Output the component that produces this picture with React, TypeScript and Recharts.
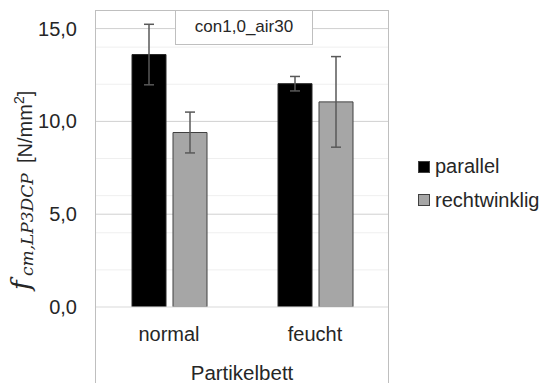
import React from 'react';
import { BarChart, Bar, XAxis, YAxis, CartesianGrid, ErrorBar, Legend, Label } from 'recharts';

const categories = ['normal', 'feucht'];
const parallelValues = [13.6, 12.03];
const parallelErrors = [1.63, 0.39];
const rechtValues = [9.4, 11.05];
const rechtErrors = [1.1, 2.44];
const yTicks = [0, 5, 10, 15];
const majorGrid = [5, 10, 15];
const minorGrid = [2, 4, 6, 8, 12, 14];
const annotation = 'con1,0_air30';
const seriesNames = ['parallel', 'rechtwinklig'];

const data = categories.map((c, i) => ({
  category: c,
  parallel: parallelValues[i],
  parallelErr: parallelErrors[i],
  rechtwinklig: rechtValues[i],
  rechtwinkligErr: rechtErrors[i],
}));

const SANS = '"Liberation Sans", Arial, sans-serif';
const SERIF = '"DejaVu Serif", "Liberation Serif", serif';
const TEXT = '#262626';

const YLabel = () => (
  <g fill={TEXT}>
    <text x={30} y={290} transform="rotate(-90, 30, 290)" textAnchor="start" fontFamily={SERIF} fontStyle="italic" fontSize={26}>
      f
    </text>
    <text x={33} y={276} transform="rotate(-90, 33, 276)" textAnchor="start" fontFamily={SERIF} fontStyle="italic" fontSize={17}>
      cm,LP3DCP
    </text>
    <text x={32} y={163} transform="rotate(-90, 32, 163)" textAnchor="start" fontFamily={SANS} fontSize={20}>
      <tspan>[N/mm</tspan>
      <tspan fontSize={14} dy={-8}>2</tspan>
      <tspan dy={8}>]</tspan>
    </text>
  </g>
);

const LegendContent = (props: any) => {
  const items = props.payload || [];
  return (
    <div style={{ fontFamily: SANS, fontSize: 20, color: TEXT }}>
      {items.map((it: any) => (
        <div key={it.value} style={{ display: 'flex', alignItems: 'center', height: 33.5, lineHeight: '33.5px' }}>
          <span
            style={{
              display: 'inline-block',
              width: 10,
              height: 10,
              background: it.color,
              border: '1px solid #404040',
              marginRight: 5,
            }}
          />
          <span>{it.value}</span>
        </div>
      ))}
    </div>
  );
};

export default function App() {
  return (
    <div style={{ position: 'absolute', left: 0, top: 0, width: 547, height: 383, background: '#fff', overflow: 'hidden' }}>
      <div
        style={{
          position: 'absolute',
          left: 95,
          top: 10,
          width: 292,
          height: 373,
          borderLeft: '1px solid #bfbfbf',
          borderTop: '1px solid #bfbfbf',
          borderRight: '1px solid #bfbfbf',
        }}
      />
      <div style={{ position: 'absolute', left: 0, top: 0 }}>
        <BarChart
          width={547}
          height={383}
          data={data}
          margin={{ top: 10, right: 159, bottom: 0, left: 0 }}
          barSize={34}
          barGap={7}
        >
          <CartesianGrid vertical={false} horizontalValues={minorGrid} stroke="#efefef" strokeWidth={1} />
          <CartesianGrid vertical={false} horizontalValues={majorGrid} stroke="#d0d0d0" strokeWidth={1} />
          <XAxis
            dataKey="category"
            height={76}
            tickLine={false}
            tickSize={0}
            tickMargin={20}
            axisLine={{ stroke: '#d9d9d9', strokeWidth: 1 }}
            tick={{ fontSize: 20, fill: TEXT, fontFamily: SANS }}
          >
            <Label value="Partikelbett" position="insideBottom" offset={3} style={{ fontSize: 20.5, fill: TEXT, fontFamily: SANS }} />
          </XAxis>
          <YAxis
            width={96}
            domain={[0, 16]}
            ticks={yTicks}
            interval={0}
            allowDataOverflow
            tickFormatter={(v: number) => v.toFixed(1).replace('.', ',')}
            axisLine={false}
            tickLine={false}
            tickSize={0}
            tickMargin={19}
            tick={{ fontSize: 20, fill: TEXT, fontFamily: SANS }}
          >
            <Label content={() => <YLabel />} />
          </YAxis>
          <Legend
            layout="horizontal"
            align="center"
            verticalAlign="middle"
            wrapperStyle={{ left: 418, top: 150, width: 129, right: 'auto', bottom: 'auto' }}
            content={<LegendContent />}
          />
          <Bar dataKey="parallel" name={seriesNames[0]} fill="#000000" stroke="#262626" strokeWidth={1} isAnimationActive={false}>
            <ErrorBar dataKey="parallelErr" width={5} stroke="#595959" strokeWidth={1.5} />
          </Bar>
          <Bar dataKey="rechtwinklig" name={seriesNames[1]} fill="#a6a6a6" stroke="#404040" strokeWidth={1} isAnimationActive={false}>
            <ErrorBar dataKey="rechtwinkligErr" width={5} stroke="#595959" strokeWidth={1.5} />
          </Bar>
        </BarChart>
      </div>
      <div
        style={{
          position: 'absolute',
          left: 175,
          top: 10,
          width: 136,
          height: 31,
          border: '1px solid #bfbfbf',
          background: '#fff',
          display: 'flex',
          alignItems: 'center',
          justifyContent: 'center',
          fontFamily: SANS,
          fontSize: 17,
          color: TEXT,
          paddingBottom: 2,
          boxSizing: 'content-box',
        }}
      >
        {annotation}
      </div>
    </div>
  );
}
